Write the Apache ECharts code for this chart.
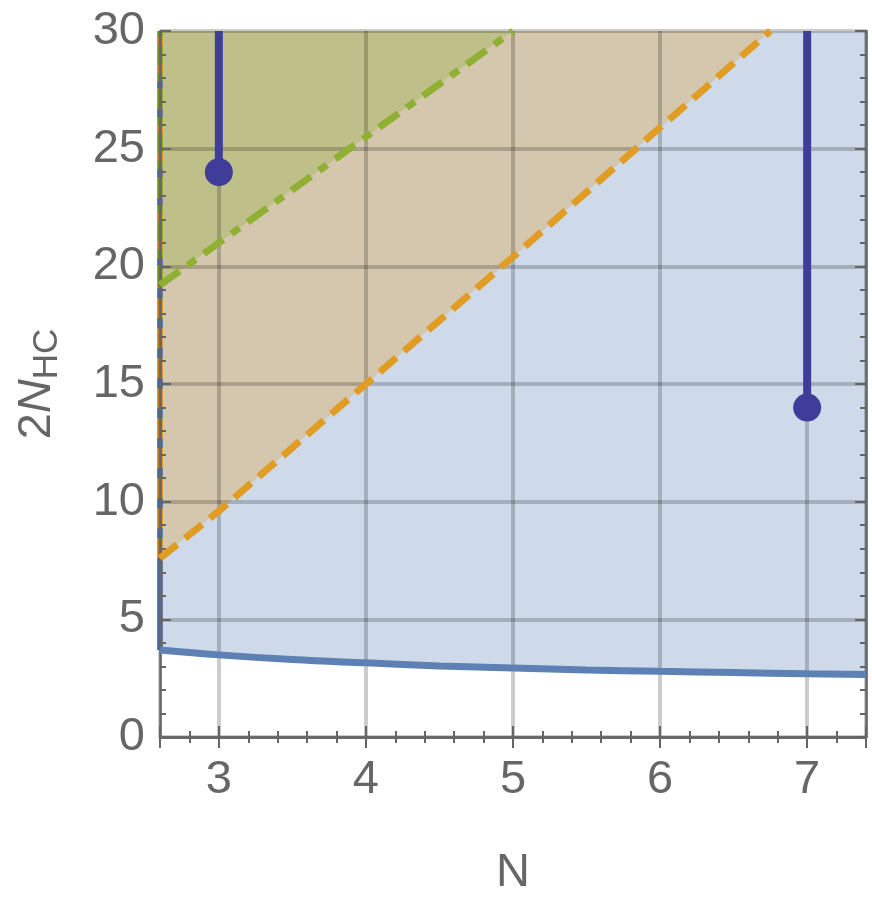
<!DOCTYPE html>
<html>
<head>
<meta charset="utf-8">
<script src="https://cdn.jsdelivr.net/npm/echarts@6/dist/echarts.min.js"></script>
<style>
  html, body { margin: 0; padding: 0; background: #fff; }
  #chart { width: 872px; height: 911px; }
</style>
</head>
<body>
<div id="chart"></div>
<script>
// boundary curve (solid blue)
const curveN = [2.6, 3, 3.5, 4, 4.5, 5, 5.5, 6, 6.5, 7, 7.4];
const curveH = [3.70, 3.49, 3.29, 3.15, 3.02, 2.93, 2.85, 2.79, 2.74, 2.69, 2.66];
// orange dashed boundary
const orangeN = [2.6, 3, 4, 5, 6, 6.75];
const orangeH = [7.6, 9.6, 15, 20.4, 25.9, 30];
// green dash-dot boundary
const greenN = [2.6, 3, 5];
const greenH = [19.2, 21, 30];
// marked points
const pointN = [3, 7];
const pointH = [24, 14];

const xMin = 2.6, xMax = 7.4, yMin = 0, yMax = 30;

const BLUE = '#5E81B5', ORANGE = '#E19C24', GREEN = '#8FB032', DOT = '#3F3D99';
const GRAY = '#666666';
const FONT = 'Liberation Sans, Arial, sans-serif';

const zip = (xs, ys) => xs.map((x, i) => [x, ys[i]]);

const region = (name, xs, ys, color) => ({
  name, type: 'line', z: 1, silent: true,
  data: zip(xs, ys), showSymbol: false, symbol: 'none',
  lineStyle: { width: 0 },
  areaStyle: { origin: 'end', color, opacity: 0.3 },
});

const edge = (ys0, color, type) => ({
  type: 'line', z: 2, silent: true, symbol: 'none',
  data: [[xMin, ys0], [xMin, yMax]],
  lineStyle: { color, width: 6, type },
});

const frameAxis = {
  z: 3,
  axisLine: { show: true, lineStyle: { color: GRAY, width: 2.5 } },
  axisTick: { show: true, inside: true, length: 11, lineStyle: { color: GRAY, width: 2 } },
  minorTick: { show: true, splitNumber: 5, length: 6, lineStyle: { color: GRAY, width: 2 } },
};

const gridLine = { show: true, lineStyle: { color: 'rgba(0,0,0,0.2)', width: 4 } };

const option = {
  animation: false,
  grid: { left: 160, right: 6, top: 31, bottom: 174 },
  xAxis: [
    Object.assign({}, frameAxis, {
      type: 'value', min: xMin, max: xMax, splitNumber: 5, position: 'bottom',
      name: 'N', nameLocation: 'middle', nameGap: 113,
      nameTextStyle: { fontFamily: FONT, fontSize: 47, color: GRAY },
      axisLabel: {
        fontFamily: FONT, fontSize: 47, color: GRAY, margin: 20,
        formatter: v => Math.abs(v - Math.round(v)) < 1e-9 ? String(Math.round(v)) : '',
      },
      splitLine: gridLine,
    }),
    Object.assign({}, frameAxis, {
      type: 'value', min: xMin, max: xMax, splitNumber: 5, position: 'top',
      axisLabel: { show: false }, splitLine: { show: false },
    }),
  ],
  yAxis: [
    Object.assign({}, frameAxis, {
      type: 'value', min: yMin, max: yMax, interval: 5, position: 'left',
      name: '{m|2}{i|N}{s|HC}', nameLocation: 'middle', nameGap: 95,
      nameTextStyle: {
        color: GRAY,
        rich: {
          m: { fontFamily: FONT, fontSize: 47, color: GRAY, lineHeight: 56 },
          i: { fontFamily: FONT, fontSize: 47, fontStyle: 'italic', color: GRAY, lineHeight: 56 },
          s: { fontFamily: FONT, fontSize: 35, color: GRAY, lineHeight: 36, verticalAlign: 'bottom' },
        },
      },
      axisLabel: { fontFamily: FONT, fontSize: 47, color: GRAY, margin: 15 },
      splitLine: gridLine,
    }),
    Object.assign({}, frameAxis, {
      type: 'value', min: yMin, max: yMax, interval: 5, position: 'right',
      axisLabel: { show: false }, splitLine: { show: false },
    }),
  ],
  series: [
    region('blue', curveN, curveH, BLUE),
    region('orange', orangeN, orangeH, ORANGE),
    region('green', greenN, greenH, GREEN),
    edge(curveH[0], BLUE, 'solid'),
    edge(orangeH[0], ORANGE, [20, 10]),
    edge(greenH[0], GREEN, [20, 8, 8, 8]),
    {
      type: 'line', z: 4, silent: true, symbol: 'none', smooth: 0.4,
      data: zip(curveN, curveH),
      lineStyle: { color: BLUE, width: 7 },
    },
    {
      type: 'line', z: 4, silent: true, symbol: 'none',
      data: zip(orangeN, orangeH),
      lineStyle: { color: ORANGE, width: 7, type: [22, 10] },
    },
    {
      type: 'line', z: 4, silent: true, symbol: 'none',
      data: zip(greenN, greenH),
      lineStyle: { color: GREEN, width: 7, type: [24, 10, 10, 10] },
    },
    ...pointN.map((n, i) => ({
      type: 'line', z: 5, silent: true, symbol: 'none',
      data: [[n, pointH[i]], [n, yMax]],
      lineStyle: { color: DOT, width: 8 },
    })),
    {
      type: 'scatter', z: 6, silent: true,
      data: zip(pointN, pointH),
      symbolSize: 28,
      itemStyle: { color: DOT, opacity: 1 },
    },
  ],
};

const chart = echarts.init(document.getElementById('chart'));
chart.setOption(option);
</script>
</body>
</html>
